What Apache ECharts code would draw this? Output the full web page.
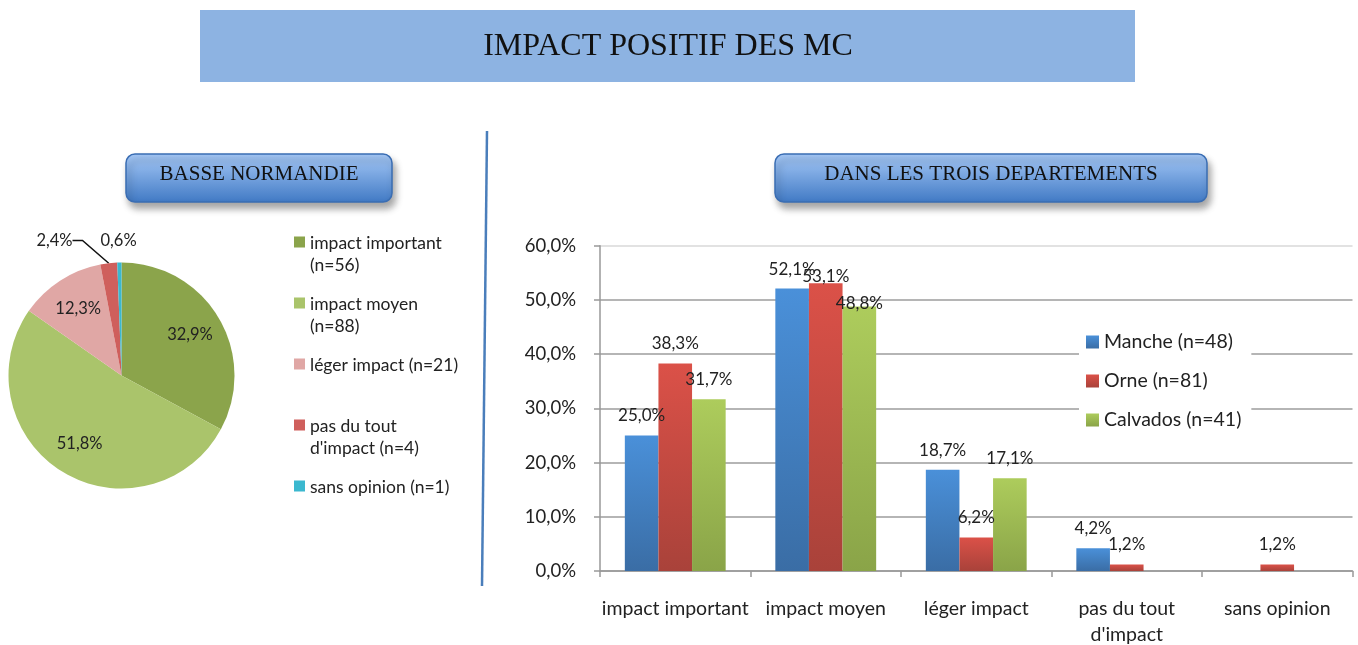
<!DOCTYPE html>
<html>
<head>
<meta charset="utf-8">
<title>Impact positif des MC</title>
<script src="https://cdn.jsdelivr.net/npm/echarts@6/dist/echarts.min.js"></script>
<style>
  html, body { margin: 0; padding: 0; background: #fff; }
  #chart { width: 1358px; height: 645px; }
</style>
</head>
<body>
<div id="chart"></div>
<script>
// pie : Basse Normandie (percent values as printed)
var pieNames = ['impact important\n(n=56)', 'impact moyen\n(n=88)', 'léger impact (n=21)', "pas du tout\nd'impact (n=4)", 'sans opinion (n=1)'];
var pieValues = [32.9, 51.8, 12.3, 2.4, 0.6];
var pieColors = ['#8BA44B', '#AAC46B', '#E0A7A5', '#CF5F5C', '#3BB8CF'];

// bars : dans les trois departements
var categories = ['impact important', 'impact moyen', 'léger impact', "pas du tout\nd'impact", 'sans opinion'];
var manche = [25.0, 52.1, 18.7, 4.2, null];
var orne = [38.3, 53.1, 6.2, 1.2, 1.2];
var calvados = [31.7, 48.8, 17.1, null, null];
var seriesNames = ['Manche (n=48)', 'Orne (n=81)', 'Calvados (n=41)'];
var yTicks = [0, 10, 20, 30, 40, 50, 60];

// labels pushed down where they would collide (impact moyen group)
var orneLabelShift = [0, 13, 0, 0, 0];
var calvadosLabelShift = [0, 17, 0, 0, 0];

var pieCenter = [121.5, 375.5];
var font = 'Lato, "Noto Sans", sans-serif';

function pct(v) {
    return v.toFixed(1).replace('.', ',') + '%';
}
function grad(top, bottom) {
    return new echarts.graphic.LinearGradient(0, 0, 0, 1, [
        { offset: 0, color: top },
        { offset: 1, color: bottom }
    ]);
}

var pieData = pieNames.map(function (n, i) {
    var d = { name: n, value: pieValues[i], itemStyle: { color: pieColors[i] } };
    if (i >= 3) {
        d.label = { position: 'outside', overflow: 'none', width: 60 };
        d.labelLine = { show: i === 3 };
    }
    return d;
});

function barSeries(name, values, shift, top, bottom) {
    var data = values.map(function (v, i) {
        if (shift && shift[i]) return { value: v, label: { offset: [0, shift[i]] } };
        return v;
    });
    return {
        name: name,
        type: 'bar',
        data: data,
        barGap: '0%',
        barCategoryGap: '33%',
        itemStyle: { color: grad(top, bottom) },
        label: {
            show: true,
            position: 'top',
            distance: 11,
            fontFamily: font,
            fontSize: 17,
            color: '#222',
            formatter: function (p) { return p.value == null ? '' : pct(p.value); }
        }
    };
}

function subBox(x, w, text) {
    return {
        type: 'group',
        children: [{
            type: 'rect',
            shape: { x: x, y: 154, width: w, height: 48, r: 9 },
            style: {
                fill: grad('#A6C9F7', '#4079C4'),
                stroke: '#3A6DB3',
                lineWidth: 1.5,
                shadowBlur: 7,
                shadowOffsetX: 3,
                shadowOffsetY: 6,
                shadowColor: 'rgba(0,0,0,0.35)'
            }
        }, {
            type: 'text',
            style: {
                x: x + w / 2, y: 174, text: text,
                align: 'center', verticalAlign: 'middle',
                font: '21px "Liberation Serif", "Times New Roman", serif',
                fill: '#111'
            }
        }]
    };
}

var chart = echarts.init(document.getElementById('chart'), null, { width: 1358, height: 645 });

var option = {
    backgroundColor: '#fff',
    animation: false,
    graphic: [
        {
            type: 'rect',
            shape: { x: 200, y: 10, width: 935, height: 72 },
            style: { fill: '#8DB3E2' }
        },
        {
            type: 'text',
            style: {
                x: 668, y: 47, text: 'IMPACT POSITIF DES MC',
                align: 'center', verticalAlign: 'middle',
                font: '32px "Liberation Serif", "Times New Roman", serif',
                fill: '#111'
            }
        },
        {
            type: 'line',
            shape: { x1: 487, y1: 131, x2: 482, y2: 586 },
            style: { stroke: '#4A7EBB', lineWidth: 2.5 }
        },
        subBox(126, 266, 'BASSE NORMANDIE'),
        subBox(775, 432, 'DANS LES TROIS DEPARTEMENTS')
    ],
    legend: [
        {
            data: pieNames,
            orient: 'vertical',
            left: 294,
            top: 232,
            padding: 0,
            itemGap: 17,
            itemWidth: 11,
            itemHeight: 35,
            icon: 'path://M0,0H11V11H0Z M0,35L0.01,35',
            textStyle: { fontFamily: font, fontSize: 17.5, color: '#222', lineHeight: 22 },
            formatter: function (n) { return n.indexOf('\n') < 0 ? n + '\n ' : n; }
        },
        {
            data: seriesNames,
            orient: 'vertical',
            left: 1079,
            top: 317,
            padding: [14, 10, 14, 7],
            backgroundColor: '#fff',
            itemGap: 17,
            itemWidth: 13,
            itemHeight: 13,
            icon: 'rect',
            textStyle: { fontFamily: font, fontSize: 19.5, color: '#222', lineHeight: 22 }
        }
    ],
    grid: { left: 600, right: 5.5, top: 245.8, bottom: 74, containLabel: false, outerBoundsMode: 'none' },
    xAxis: {
        type: 'category',
        data: categories,
        axisLine: { lineStyle: { color: '#999', width: 1.5 } },
        axisTick: { show: true, length: 6, lineStyle: { color: '#999', width: 1.5 } },
        axisLabel: {
            interval: 0, margin: 25,
            fontFamily: font, fontSize: 19.5, color: '#222', lineHeight: 26
        },
        splitLine: { show: false }
    },
    yAxis: {
        type: 'value',
        min: yTicks[0],
        max: yTicks[yTicks.length - 1],
        interval: 10,
        axisLine: { show: true, lineStyle: { color: '#999', width: 1.5 } },
        axisTick: { show: true, length: 6, lineStyle: { color: '#999', width: 1.5 } },
        axisLabel: {
            margin: 24,
            fontFamily: font, fontSize: 18.5, color: '#222',
            formatter: function (v) { return pct(v); }
        },
        splitLine: {
            show: true,
            lineStyle: {
                color: ['#9c9c9c', '#9c9c9c', '#9c9c9c', '#9c9c9c', '#9c9c9c', '#9c9c9c', '#d8d8d8'],
                width: 1.5
            }
        }
    },
    series: [
        {
            type: 'pie',
            center: pieCenter,
            radius: 113,
            startAngle: 90,
            clockwise: true,
            data: pieData,
            itemStyle: { borderWidth: 0 },
            label: {
                show: true,
                position: 'inside',
                fontFamily: font,
                fontSize: 16.5,
                color: '#222',
                formatter: function (p) { return pct(p.value); }
            },
            labelLine: { length: 20, length2: 10, lineStyle: { color: '#111', width: 1.5 } },
            labelLayout: function (p) {
                // small slices: labels above the pie, left and right of the top
                if (p.dataIndex === 3) {
                    return { x: pieCenter[0] - 49, y: pieCenter[1] - 135, align: 'right', verticalAlign: 'middle' };
                }
                if (p.dataIndex === 4) {
                    return { x: pieCenter[0] - 21, y: pieCenter[1] - 135, align: 'left', verticalAlign: 'middle' };
                }
                // push inner labels outwards (about 2/3 of the radius)
                var r = p.labelRect;
                var lx = r.x + r.width / 2, ly = r.y + r.height / 2;
                return { dx: (lx - pieCenter[0]) * 0.34, dy: (ly - pieCenter[1]) * 0.34 };
            }
        },
        barSeries(seriesNames[0], manche, null, '#4A90D9', '#3A6DA5'),
        barSeries(seriesNames[1], orne, orneLabelShift, '#DB5148', '#A9423A'),
        barSeries(seriesNames[2], calvados, calvadosLabelShift, '#ADCC5C', '#8AA448')
    ]
};

chart.setOption(option);
</script>
</body>
</html>
